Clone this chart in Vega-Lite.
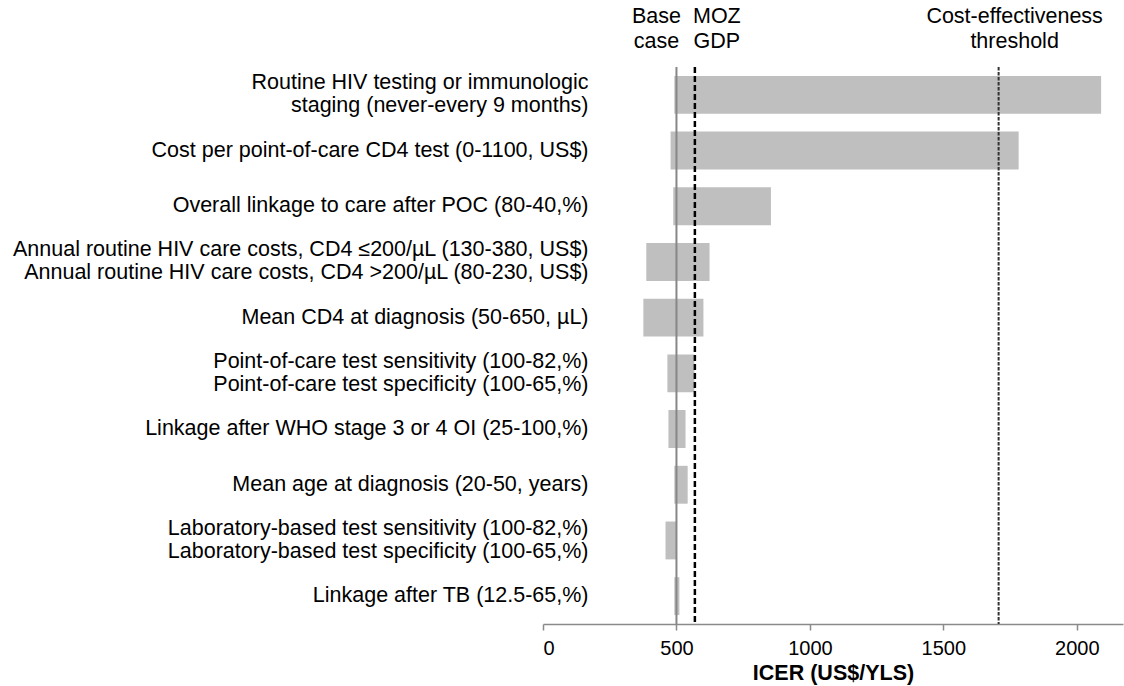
{
  "$schema": "https://vega.github.io/schema/vega-lite/v6.json",
  "width": 580,
  "height": 557,
  "autosize": {"type": "none"},
  "padding": {"left": 543, "top": 67, "right": 1, "bottom": 62},
  "background": "white",
  "config": {
    "font": "Liberation Sans",
    "view": {"stroke": null},
    "axis": {"labelFont": "Liberation Sans", "titleFont": "Liberation Sans"}
  },
  "datasets": {
    "bars": [
      {"label": "Routine HIV testing or immunologic|staging (never-every 9 months)", "low": 492, "high": 2091},
      {"label": "Cost per point-of-care CD4 test (0-1100, US$)", "low": 478, "high": 1782},
      {"label": "Overall linkage to care after POC (80-40,%)", "low": 488, "high": 854},
      {"label": "Annual routine HIV care costs, CD4 ≤200/µL (130-380, US$)|Annual routine HIV care costs, CD4 >200/µL (80-230, US$)", "low": 387, "high": 624},
      {"label": "Mean CD4 at diagnosis (50-650, µL)", "low": 376, "high": 601},
      {"label": "Point-of-care test sensitivity (100-82,%)|Point-of-care test specificity (100-65,%)", "low": 466, "high": 567},
      {"label": "Linkage after WHO stage 3 or 4 OI (25-100,%)", "low": 470, "high": 534},
      {"label": "Mean age at diagnosis (20-50, years)", "low": 492, "high": 542},
      {"label": "Laboratory-based test sensitivity (100-82,%)|Laboratory-based test specificity (100-65,%)", "low": 459, "high": 500},
      {"label": "Linkage after TB (12.5-65,%)", "low": 492, "high": 511}
    ],
    "refs": [
      {"name": "Base|case", "value": 500},
      {"name": "MOZ|GDP", "value": 569},
      {"name": "Cost-effectiveness|threshold", "value": 1707}
    ]
  },
  "layer": [
    {
      "data": {"name": "bars"},
      "mark": {"type": "bar", "color": "#bfbfbf"},
      "encoding": {
        "y": {
          "field": "label", "type": "nominal", "sort": null,
          "scale": {"paddingInner": 0.32, "paddingOuter": 0.16},
          "axis": {
            "orient": "left", "offset": -45, "domain": false, "ticks": false,
            "labelPadding": 0, "labelFontSize": 21.5, "labelColor": "black",
            "labelLimit": 700, "labelLineHeight": 23, "title": null,
            "labelExpr": "split(datum.label, '|')",
            "labelOffset": {"condition": {"test": "indexof(datum.value, '|') >= 0", "value": -11.5}, "value": 0}
          }
        },
        "x": {
          "field": "low", "type": "quantitative", "title": "ICER (US$/YLS)",
          "scale": {"domain": [0, 2173], "nice": false, "zero": false},
          "axis": {
            "titleFontSize": 21.5, "titleFontWeight": "bold",
            "titleColor": "black", "titlePadding": 4,
            "labelFontSize": 20, "labelColor": "black", "labelPadding": 8,
            "values": [0, 500, 1000, 1500, 2000], "format": "d", "grid": false,
            "domainColor": "#8a8a8a", "domainWidth": 1.5,
            "tickColor": "#8a8a8a", "tickWidth": 1.5, "tickSize": 6
          }
        },
        "x2": {"field": "high"}
      }
    },
    {
      "data": {"name": "refs"},
      "transform": [{"filter": "datum.value == 500"}],
      "mark": {"type": "rule", "color": "#878787", "strokeWidth": 2},
      "encoding": {"x": {"field": "value", "type": "quantitative", "title": "ICER (US$/YLS)"}}
    },
    {
      "data": {"name": "refs"},
      "transform": [{"filter": "datum.value == 569"}],
      "mark": {"type": "rule", "color": "#000000", "strokeWidth": 2.5, "strokeDash": [6, 3]},
      "encoding": {"x": {"field": "value", "type": "quantitative", "title": "ICER (US$/YLS)"}}
    },
    {
      "data": {"name": "refs"},
      "transform": [{"filter": "datum.value == 1707"}],
      "mark": {"type": "rule", "color": "#333333", "strokeWidth": 2, "strokeDash": [3.5, 1.5]},
      "encoding": {"x": {"field": "value", "type": "quantitative", "title": "ICER (US$/YLS)"}}
    },
    {
      "data": {"name": "refs"},
      "transform": [{"filter": "datum.value == 500"}],
      "mark": {"type": "text", "fontSize": 21.5, "lineBreak": "|", "lineHeight": 25, "align": "center", "baseline": "middle", "dx": -20, "y": -50, "color": "black"},
      "encoding": {"x": {"field": "value", "type": "quantitative", "title": "ICER (US$/YLS)"}, "text": {"field": "name"}}
    },
    {
      "data": {"name": "refs"},
      "transform": [{"filter": "datum.value == 569"}],
      "mark": {"type": "text", "fontSize": 21.5, "lineBreak": "|", "lineHeight": 25, "align": "center", "baseline": "middle", "dx": 22, "y": -50, "color": "black"},
      "encoding": {"x": {"field": "value", "type": "quantitative", "title": "ICER (US$/YLS)"}, "text": {"field": "name"}}
    },
    {
      "data": {"name": "refs"},
      "transform": [{"filter": "datum.value == 1707"}],
      "mark": {"type": "text", "fontSize": 21.5, "lineBreak": "|", "lineHeight": 25, "align": "center", "baseline": "middle", "dx": 16, "y": -50, "color": "black"},
      "encoding": {"x": {"field": "value", "type": "quantitative", "title": "ICER (US$/YLS)"}, "text": {"field": "name"}}
    }
  ]
}
